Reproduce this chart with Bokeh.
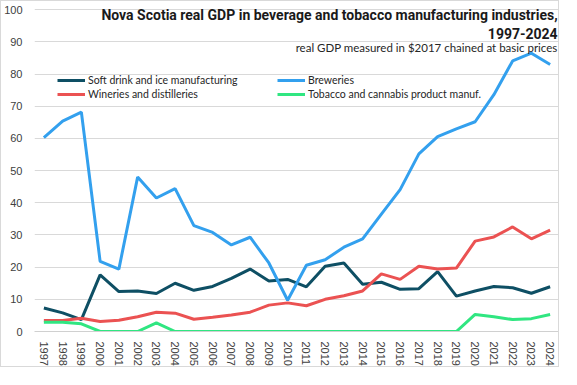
from bokeh.plotting import figure
from bokeh.models import FixedTicker, Legend, LegendItem, Label, ColumnDataSource
from bokeh.embed import file_html
from bokeh.resources import INLINE

years = list(range(1997, 2025))
soft_drink = [7.3, 5.8, 3.7, 17.6, 12.4, 12.6, 11.8, 15.0, 12.8, 14.0, 16.5, 19.4, 15.7, 16.2,
              13.9, 20.3, 21.3, 14.7, 15.3, 13.1, 13.3, 18.6, 11.0, 12.6, 14.0, 13.6, 11.9, 13.9]
breweries = [60.3, 65.4, 68.2, 21.8, 19.4, 48.0, 41.5, 44.4, 32.9, 30.8, 26.9, 29.3, 21.3, 9.7,
             20.6, 22.3, 26.2, 28.8, 36.5, 44.1, 55.2, 60.6, 63.0, 65.2, 73.6, 84.1, 86.5, 83.0]
wineries = [3.4, 3.4, 4.1, 3.1, 3.5, 4.6, 6.0, 5.7, 3.8, 4.4, 5.1, 6.0, 8.2, 8.9,
            8.0, 10.0, 11.1, 12.6, 17.9, 16.2, 20.3, 19.4, 19.7, 28.1, 29.4, 32.5, 28.8, 31.5]
tobacco = [2.9, 2.9, 2.4, 0, 0, 0, 2.7, 0, 0, 0, 0, 0, 0, 0,
           0, 0, 0, 0, 0, 0, 0, 0, 0, 5.3, 4.6, 3.7, 4.0, 5.3]
y_ticks = list(range(0, 101, 10))

series_names = ["Soft drink and ice manufacturing", "Breweries",
                "Wineries and distilleries", "Tobacco and cannabis product manuf."]
colors = ["#0E4F64", "#33A0EE", "#EB5252", "#30E681"]

title_line1 = "Nova Scotia real GDP in beverage and tobacco manufacturing industries,"
title_line2 = "1997-2024"
subtitle = "real GDP measured in $2017 chained at basic prices"

src = ColumnDataSource(dict(year=years, soft=soft_drink, brew=breweries,
                            wine=wineries, tob=tobacco))

p = figure(width=559, height=367, output_backend="svg", toolbar_location=None,
           x_range=(1996.5, 2024.5), y_range=(0, 100.4),
           min_border_left=30, min_border_right=1, min_border_top=7, min_border_bottom=33)
p.styles = {"border": "1px solid #d9d9d9"}
p.outline_line_color = None
p.background_fill_color = "white"

# axes
p.xaxis.ticker = FixedTicker(ticks=years)
p.xaxis.major_label_orientation = "vertical"
p.xaxis.major_label_text_font = "Liberation Sans"
p.xaxis.major_label_text_font_size = "11px"
p.xaxis.major_label_text_color = "#404040"
p.xaxis.axis_line_color = "#d0d0d0"
p.xaxis.major_tick_line_color = None
p.xaxis.minor_tick_line_color = None
p.xaxis.major_label_standoff = 4

p.yaxis.ticker = FixedTicker(ticks=y_ticks)
p.yaxis.major_label_text_font = "Liberation Sans"
p.yaxis.major_label_text_font_size = "11px"
p.yaxis.major_label_text_color = "#404040"
p.yaxis.axis_line_color = None
p.yaxis.major_tick_line_color = None
p.yaxis.minor_tick_line_color = None
p.yaxis.major_label_standoff = 6

p.xgrid.grid_line_color = None
p.ygrid.grid_line_color = "#d9d9d9"
p.ygrid.grid_line_width = 1

keys = ["soft", "brew", "wine", "tob"]
renderers = {}
for k, name, c in zip(keys, series_names, colors):
    renderers[k] = p.line("year", k, source=src, line_color=c, line_width=3)

legend1 = Legend(items=[LegendItem(label=series_names[0], renderers=[renderers["soft"]]),
                        LegendItem(label=series_names[2], renderers=[renderers["wine"]])],
                 location=(23, 230))
legend2 = Legend(items=[LegendItem(label=series_names[1], renderers=[renderers["brew"]]),
                        LegendItem(label=series_names[3], renderers=[renderers["tob"]])],
                 location=(243, 230))
for lg in (legend1, legend2):
    lg.background_fill_alpha = 0
    lg.border_line_alpha = 0
    lg.padding = 0
    lg.margin = 0
    lg.spacing = 0
    lg.glyph_width = 28
    lg.glyph_height = 14
    lg.label_height = 14
    lg.label_standoff = 3
    lg.label_text_font = "Lato"
    lg.label_text_font_size = "10.5px"
    lg.label_text_color = "#262626"
    p.add_layout(lg, "center")

title_font = "Roboto"
p.add_layout(Label(x=2024.4, y=98.3, text=title_line1, text_align="right",
                   text_baseline="middle", text_font=title_font, text_font_style="bold",
                   text_font_size="14px", text_color="#1a1a1a"))
p.add_layout(Label(x=2024.4, y=92.5, text=title_line2, text_align="right",
                   text_baseline="middle", text_font=title_font, text_font_style="bold",
                   text_font_size="14px", text_color="#1a1a1a"))
p.add_layout(Label(x=2024.4, y=88.3, text=subtitle, text_align="right",
                   text_baseline="middle", text_font="Lato",
                   text_font_size="11.5px", text_color="#262626"))

open("out.html", "w").write(file_html(p, INLINE))
